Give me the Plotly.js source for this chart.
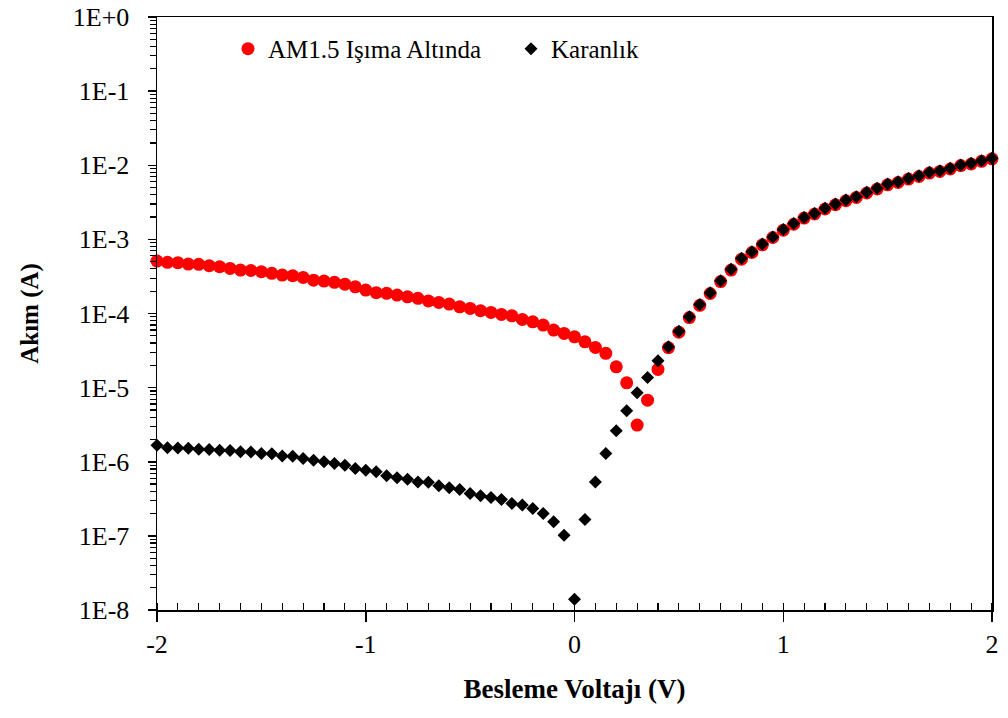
<!DOCTYPE html>
<html>
<head>
<meta charset="utf-8">
<script src="https://cdn.plot.ly/plotly-3.0.1.min.js"></script>
<style>html,body{margin:0;padding:0;background:#fff;}#chart{width:1008px;height:718px;}</style>
</head>
<body>
<div id="chart"></div>
<script>
var voltage = [-2, -1.95, -1.9, -1.85, -1.8, -1.75, -1.7, -1.65, -1.6, -1.55,
  -1.5, -1.45, -1.4, -1.35, -1.3, -1.25, -1.2, -1.15, -1.1, -1.05,
  -1, -0.95, -0.9, -0.85, -0.8, -0.75, -0.7, -0.65, -0.6, -0.55,
  -0.5, -0.45, -0.4, -0.35, -0.3, -0.25, -0.2, -0.15, -0.1, -0.05,
  0, 0.05, 0.1, 0.15, 0.2, 0.25, 0.3, 0.35, 0.4, 0.45,
  0.5, 0.55, 0.6, 0.65, 0.7, 0.75, 0.8, 0.85, 0.9, 0.95,
  1, 1.05, 1.1, 1.15, 1.2, 1.25, 1.3, 1.35, 1.4, 1.45,
  1.5, 1.55, 1.6, 1.65, 1.7, 1.75, 1.8, 1.85, 1.9, 1.95,
  2];

var currentLight = [5.09e-4, 4.90e-4, 4.85e-4, 4.65e-4, 4.60e-4, 4.41e-4, 4.27e-4, 4.06e-4, 3.85e-4, 3.80e-4,
  3.66e-4, 3.48e-4, 3.30e-4, 3.23e-4, 3.07e-4, 2.82e-4, 2.74e-4, 2.63e-4, 2.49e-4, 2.29e-4,
  2.07e-4, 1.91e-4, 1.87e-4, 1.77e-4, 1.68e-4, 1.60e-4, 1.48e-4, 1.41e-4, 1.34e-4, 1.23e-4,
  1.17e-4, 1.09e-4, 1.035e-4, 9.73e-5, 9.31e-5, 8.32e-5, 7.73e-5, 6.97e-5, 5.97e-5, 5.38e-5,
  4.85e-5, 4.15e-5, 3.49e-5, 2.90e-5, 1.91e-5, 1.16e-5, 3.12e-6, 6.78e-6, 1.76e-5, 3.45e-5,
  5.6e-5, 8.8e-5, 1.29e-4, 1.86e-4, 2.70e-4, 3.85e-4, 5.4e-4, 6.65e-4, 8.45e-4, 1.06e-3,
  1.33e-3, 1.60e-3, 1.94e-3, 2.20e-3, 2.57e-3, 2.93e-3, 3.32e-3, 3.68e-3, 4.22e-3, 4.78e-3,
  5.45e-3, 5.85e-3, 6.5e-3, 7.05e-3, 7.85e-3, 8.25e-3, 8.9e-3, 9.9e-3, 1.04e-2, 1.13e-2,
  1.22e-2];

var currentDark = [1.67e-6, 1.54e-6, 1.53e-6, 1.52e-6, 1.48e-6, 1.46e-6, 1.43e-6, 1.42e-6, 1.36e-6, 1.35e-6,
  1.29e-6, 1.28e-6, 1.20e-6, 1.19e-6, 1.11e-6, 1.05e-6, 9.97e-7, 9.49e-7, 9.0e-7, 8.12e-7,
  7.70e-7, 7.31e-7, 6.46e-7, 6.07e-7, 5.82e-7, 5.35e-7, 5.30e-7, 4.73e-7, 4.45e-7, 4.23e-7,
  3.73e-7, 3.47e-7, 3.30e-7, 3.10e-7, 2.74e-7, 2.60e-7, 2.34e-7, 2.01e-7, 1.55e-7, 1.02e-7,
  1.40e-8, 1.66e-7, 5.35e-7, 1.29e-6, 2.61e-6, 4.86e-6, 8.51e-6, 1.37e-5, 2.30e-5, 3.55e-5,
  5.75e-5, 9.02e-5, 1.32e-4, 1.90e-4, 2.76e-4, 3.94e-4, 5.55e-4, 6.81e-4, 8.65e-4, 1.08e-3,
  1.36e-3, 1.64e-3, 1.98e-3, 2.24e-3, 2.62e-3, 2.99e-3, 3.39e-3, 3.76e-3, 4.31e-3, 4.88e-3,
  5.57e-3, 5.98e-3, 6.65e-3, 7.21e-3, 8.02e-3, 8.43e-3, 9.08e-3, 1.01e-2, 1.06e-2, 1.15e-2,
  1.24e-2];

var seriesNames = ["AM1.5 Işıma Altında", "Karanlık"];
var yTickVals = [1e0, 1e-1, 1e-2, 1e-3, 1e-4, 1e-5, 1e-6, 1e-7, 1e-8];
var yTickText = ["1E+0", "1E-1", "1E-2", "1E-3", "1E-4", "1E-5", "1E-6", "1E-7", "1E-8"];
var xTickVals = [-2, -1, 0, 1, 2];
var xTickText = ["-2", "-1", "0", "1", "2"];
var yRangeLog = [-8, 0];

// minor log tick positions (2..9 within each decade), shown on an overlaid tick-only axis
var yMinorVals = [];
for (var d = yRangeLog[0]; d < yRangeLog[1]; d++) {
  for (var m = 2; m <= 9; m++) { yMinorVals.push(m * Math.pow(10, d)); }
}

var serif = '"Liberation Serif", "Times New Roman", serif';

var traces = [
  {
    x: voltage, y: currentLight, name: seriesNames[0],
    type: 'scatter', mode: 'markers', cliponaxis: false,
    marker: {symbol: 'circle', size: 13, color: '#ff0000'}
  },
  {
    x: voltage, y: currentDark, name: seriesNames[1],
    type: 'scatter', mode: 'markers', cliponaxis: false,
    marker: {symbol: 'diamond', size: 10, color: '#000000'}
  },
  {
    // empty helper trace so the minor-tick axis is drawn
    x: [null], y: [null], yaxis: 'y2', type: 'scatter', mode: 'markers',
    showlegend: false, hoverinfo: 'skip'
  }
];

var layout = {
  width: 1008, height: 718,
  margin: {l: 157, r: 16, t: 17, b: 108},
  paper_bgcolor: '#ffffff', plot_bgcolor: '#ffffff',
  font: {family: serif, size: 24, color: '#000'},
  showlegend: true,
  legend: {
    orientation: 'h', x: 0.085, y: 0.985, xanchor: 'left', yanchor: 'top',
    font: {family: serif, size: 25, color: '#000'},
    bgcolor: 'rgba(0,0,0,0)', itemwidth: 30, entrywidth: 238, entrywidthmode: 'pixels'
  },
  xaxis: {
    range: [-2, 2], tickmode: 'array', tickvals: xTickVals, ticktext: xTickText,
    ticks: 'outside', ticklen: 10, tickwidth: 1.5, tickcolor: '#000',
    showline: true, linecolor: '#000', linewidth: 1.5, mirror: true,
    showgrid: false, zeroline: false,
    tickfont: {family: serif, size: 26, color: '#000'},
    minor: {dtick: 0.1, ticks: 'inside', ticklen: 7, tickwidth: 1.2, tickcolor: '#000', showgrid: false},
    title: {text: '<b>Besleme Voltajı (V)</b>', font: {family: serif, size: 27, color: '#000'}, standoff: 21}
  },
  yaxis: {
    type: 'log', range: yRangeLog, tickmode: 'array', tickvals: yTickVals, ticktext: yTickText,
    ticks: 'outside', ticklen: 8, tickwidth: 1.5, tickcolor: '#000',
    showline: true, linecolor: '#000', linewidth: 1.5, mirror: true,
    showgrid: false, zeroline: false, ticklabelstandoff: 13,
    tickfont: {family: serif, size: 26, color: '#000'},
    title: {text: '<b>Akım (A)</b>', font: {family: serif, size: 25, color: '#000'}, standoff: 27}
  },
  yaxis2: {
    type: 'log', range: yRangeLog, overlaying: 'y', side: 'left', anchor: 'x',
    tickmode: 'array', tickvals: yMinorVals, showticklabels: false,
    ticks: 'outside', ticklen: 6, tickwidth: 1.2, tickcolor: '#000',
    showline: false, showgrid: false, zeroline: false, fixedrange: true
  }
};

Plotly.newPlot('chart', traces, layout, {displayModeBar: false, staticPlot: true});
</script>
</body>
</html>
